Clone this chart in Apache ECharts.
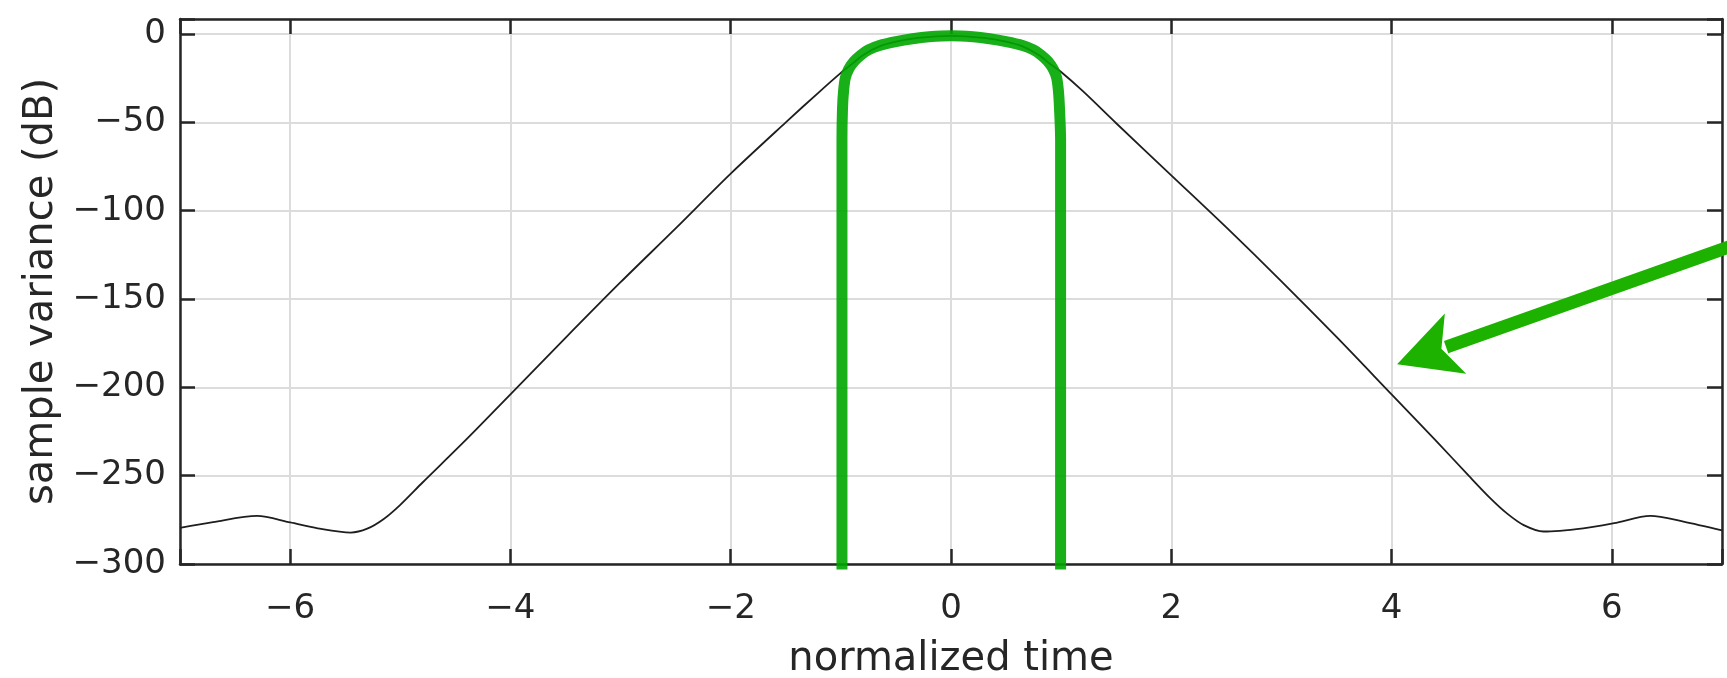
<!DOCTYPE html>
<html>
<head>
<meta charset="utf-8">
<script src="https://cdn.jsdelivr.net/npm/echarts@6/dist/echarts.min.js"></script>
<style>
  html, body { margin: 0; padding: 0; background: #ffffff; }
  #chart { width: 1727px; height: 678px; }
</style>
</head>
<body>
<div id="chart"></div>
<script>
// ---- data ----
const blackX = [-7, -6.7, -6.3, -6.0, -5.75, -5.45, -5.3, -5.15, -5.0, -4.8, -4.4, -4.0, -3.5, -3.0, -2.5, -2.0, -1.5, -1.2, -1.0, -0.9, -0.8, -0.65, -0.5, -0.3, 0,
                0.3, 0.5, 0.65, 0.8, 0.9, 1.0, 1.2, 1.5, 2.0, 2.5, 3.0, 3.5, 4.0, 4.4, 4.7, 4.9, 5.05, 5.2, 5.38, 5.74, 6.02, 6.35, 6.65, 7.0];
const blackY = [-279.6, -276.3, -272.8, -276.5, -279.8, -282.2, -280, -274.5, -266.5, -254, -229.5, -204, -172, -140.5, -110, -79, -50, -33, -22, -17, -12, -7, -4.3, -2.2, -1,
                -2.2, -4.3, -7, -12, -17, -21.5, -32.5, -50.5, -80, -109.5, -140, -171.5, -204, -230, -250, -263, -271.5, -278, -281.6, -279.8, -276.9, -272.8, -276, -281];

const greenX = [-0.99, -0.99, -0.985, -0.975, -0.96, -0.93, -0.88, -0.82, -0.75, -0.65, -0.5, -0.35, -0.2, 0,
                0.2, 0.35, 0.5, 0.65, 0.75, 0.82, 0.88, 0.93, 0.96, 0.975, 0.985, 0.995, 0.995];
const greenY = [-320, -60, -42, -32, -25, -20, -15.5, -12, -9, -6.5, -4.3, -2.7, -1.6, -1,
                -1.6, -2.7, -4.3, -6.5, -9, -12, -15.5, -20, -25, -32, -42, -60, -320];

const xTicks = [-6, -4, -2, 0, 2, 4, 6];
const yTicks = [-300, -250, -200, -150, -100, -50, 0];

// annotation arrow: tail (outside plot) -> tip, in data units
const arrowTail = [7.3, -115.3];
const arrowTip = [4.05, -187];

const zip = (xs, ys) => xs.map((x, i) => [x, ys[i]]);

const TXT = '#262626';
const FONT = 'DejaVu Sans';
const minus = v => String(v).replace('-', '\u2212');

const chart = echarts.init(document.getElementById('chart'), null, { renderer: 'canvas' });

const option = {
  backgroundColor: '#ffffff',
  animation: false,
  grid: { left: 180, right: 5, top: 19, bottom: 114, containLabel: false, outerBoundsMode: 'none' },
  xAxis: [
    {
      type: 'value', min: -7, max: 7, splitNumber: 7,
      name: 'normalized time', nameLocation: 'middle', nameGap: 76,
      nameTextStyle: { fontFamily: FONT, fontSize: 40, color: TXT },
      axisLine: { show: true, onZero: false, lineStyle: { color: TXT, width: 2.5 } },
      axisTick: { show: true, inside: true, length: 15, lineStyle: { color: TXT, width: 2.5 } },
      axisLabel: {
        fontFamily: FONT, fontSize: 34, color: TXT, margin: 28,
        formatter: v => xTicks.includes(v) ? minus(v) : ''
      },
      splitLine: { show: true, lineStyle: { color: '#dcdcdc', width: 2 } }
    },
    {
      type: 'value', min: -7, max: 7, splitNumber: 7, position: 'top',
      axisLine: { show: true, onZero: false, lineStyle: { color: TXT, width: 2.5 } },
      axisTick: { show: true, inside: true, length: 15, lineStyle: { color: TXT, width: 2.5 } },
      axisLabel: { show: false },
      splitLine: { show: false }
    }
  ],
  yAxis: [
    {
      type: 'value', min: -300, max: 8.5, interval: 50,
      name: 'sample variance (dB)', nameLocation: 'middle', nameGap: 112,
      nameTextStyle: { fontFamily: FONT, fontSize: 40, color: TXT },
      axisLine: { show: true, onZero: false, lineStyle: { color: TXT, width: 2.5 } },
      axisTick: { show: true, inside: true, length: 15, lineStyle: { color: TXT, width: 2.5 } },
      axisLabel: {
        fontFamily: FONT, fontSize: 34, color: TXT, margin: 14,
        formatter: v => yTicks.includes(v) ? minus(v) : ''
      },
      splitLine: { show: true, lineStyle: { color: '#dcdcdc', width: 2 } }
    },
    {
      type: 'value', min: -300, max: 8.5, interval: 50, position: 'right',
      axisLine: { show: true, onZero: false, lineStyle: { color: TXT, width: 2.5 } },
      axisTick: { show: true, inside: true, length: 15, lineStyle: { color: TXT, width: 2.5 } },
      axisLabel: { show: false },
      splitLine: { show: false }
    }
  ],
  series: [
    {
      name: 'black', type: 'line', xAxisIndex: 0, yAxisIndex: 0,
      data: zip(blackX, blackY), showSymbol: false, smooth: 0.3,
      lineStyle: { color: '#1e1e1e', width: 1.8 }, z: 2
    },
    {
      name: 'green', type: 'line', xAxisIndex: 0, yAxisIndex: 0,
      data: zip(greenX, greenY), showSymbol: false, smooth: 0.3,
      lineStyle: { color: '#00a600', width: 11, opacity: 0.9 }, z: 3
    },
    {
      name: 'arrow', type: 'custom', xAxisIndex: 0, yAxisIndex: 0, clip: false, z: 10,
      data: [[arrowTail[0], arrowTail[1], arrowTip[0], arrowTip[1]]],
      renderItem: function (params, api) {
        const p0 = api.coord([api.value(0), api.value(1)]);
        const p1 = api.coord([api.value(2), api.value(3)]);
        const dx = p0[0] - p1[0], dy = p0[1] - p1[1];
        const len = Math.sqrt(dx * dx + dy * dy);
        const u = [dx / len, dy / len];
        const n = [-u[1], u[0]];
        const L = 62, W = 32, N = 47;
        const pt = (a, b) => [p1[0] + u[0] * a + n[0] * b, p1[1] + u[1] * a + n[1] * b];
        const color = '#1db200';
        return {
          type: 'group',
          children: [
            { type: 'line', shape: { x1: p0[0], y1: p0[1], x2: pt(52, 0)[0], y2: pt(52, 0)[1] },
              style: { stroke: color, lineWidth: 13 } },
            { type: 'polygon', shape: { points: [p1, pt(L, W), pt(N, 0), pt(L, -W)] },
              style: { fill: color } }
          ]
        };
      }
    }
  ]
};
chart.setOption(option);
</script>
</body>
</html>
